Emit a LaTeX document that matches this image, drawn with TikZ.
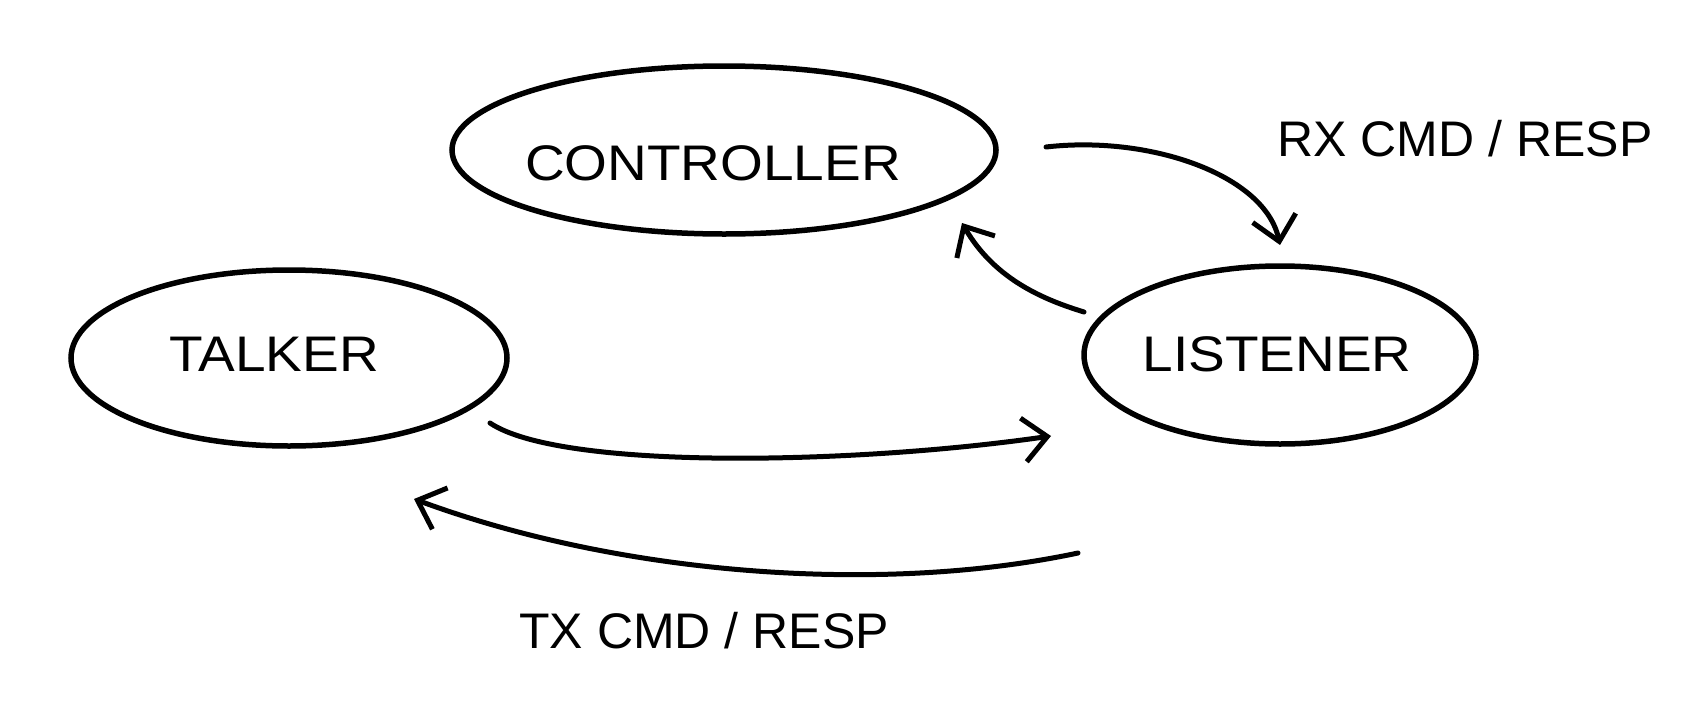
\documentclass[tikz,border=0pt]{standalone}
\usepackage{fontspec}
\setmainfont{Liberation Sans}
\usetikzlibrary{shapes.geometric,arrows.meta}
\tikzset{
  blob/.style={draw=black, line width=5.5pt, ellipse, inner sep=0pt},
  lbl/.style={font=\fontsize{50}{54}\selectfont, text=black},
  conn/.style={line width=5pt, line cap=round, -{Straight Barb[length=24pt,width=44pt,line width=5pt]}}
}
\begin{document}
\begin{tikzpicture}[x=1pt,y=-1pt]
\useasboundingbox[fill=white] (0,0) rectangle (1708,715);
\node[blob, minimum width=544pt, minimum height=168pt] (ctrl) at (724,150) {};
\node[blob, minimum width=436pt, minimum height=176pt] (talk) at (289,358) {};
\node[blob, minimum width=392pt, minimum height=178pt] (list) at (1280,355) {};
\node[lbl, xscale=1.1] (ctrlt) at (713,163) {CONTROLLER};
\node[lbl, xscale=1.1] (talkt) at (274,354) {TALKER};
\node[lbl, xscale=1.1] (listt) at (1277,354) {LISTENER};
\node[lbl] (rx) at (1465,139) {RX CMD / RESP};
\node[lbl] (tx) at (704,631) {TX CMD / RESP};
% connector end points
\coordinate (c1s) at (1046,147);
\coordinate (c1e) at (1280,245);
\coordinate (c2s) at (1084,312);
\coordinate (c2e) at (962,223);
\coordinate (c3s) at (490,423);
\coordinate (c3e) at (1051,436);
\coordinate (c4s) at (1078,553);
\coordinate (c4e) at (414,499);
\draw[conn] (c1s) .. controls (1150,135) and (1265,175) .. (c1e);
\draw[conn] (c2s) .. controls (1045,300) and (995,280) .. (c2e);
\draw[conn] (c3s) .. controls (560,470) and (850,465) .. (c3e);
\draw[conn] (c4s) .. controls (880,595) and (620,575) .. (c4e);
\end{tikzpicture}
\end{document}
